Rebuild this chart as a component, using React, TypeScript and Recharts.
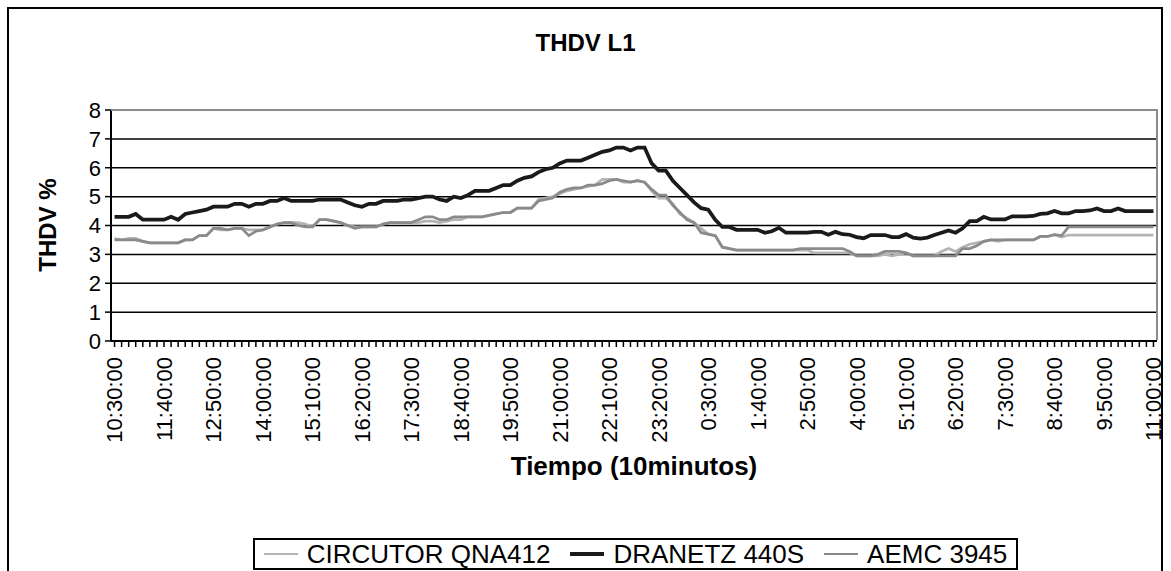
import React from 'react';
import { LineChart, Line, XAxis, YAxis, CartesianGrid } from 'recharts';

// 10-minute samples from 10:30:00 to 11:00:00 next day (148 samples)
const categories: string[] = [];
for (let i = 0; i < 148; i++) {
  const m = (10 * 60 + 30 + i * 10) % 1440;
  categories.push(`${Math.floor(m / 60)}:${String(m % 60).padStart(2, '0')}:00`);
}

const tickLabels = [
  '10:30:00', '11:40:00', '12:50:00', '14:00:00', '15:10:00', '16:20:00', '17:30:00', '18:40:00',
  '19:50:00', '21:00:00', '22:10:00', '23:20:00', '0:30:00', '1:40:00', '2:50:00', '4:00:00',
  '5:10:00', '6:20:00', '7:30:00', '8:40:00', '9:50:00', '11:00:00',
];

const yTicks = [0, 1, 2, 3, 4, 5, 6, 7, 8];

const circutor = [
  3.55, 3.5, 3.55, 3.55, 3.45, 3.4, 3.4, 3.4, 3.4, 3.4,
  3.5, 3.5, 3.65, 3.65, 3.9, 3.85, 3.85, 3.9, 3.9, 3.85,
  3.85, 3.85, 3.95, 4.05, 4.1, 4.1, 4.1, 4.05, 3.95, 4.2,
  4.2, 4.15, 4.1, 4.0, 3.95, 3.95, 3.95, 3.95, 4.05, 4.1,
  4.1, 4.1, 4.1, 4.1, 4.15, 4.15, 4.1, 4.15, 4.2, 4.2,
  4.3, 4.3, 4.3, 4.35, 4.4, 4.45, 4.45, 4.6, 4.6, 4.6,
  4.9, 4.95, 5.0, 5.1, 5.2, 5.25, 5.3, 5.35, 5.4, 5.6,
  5.6, 5.6, 5.5, 5.5, 5.55, 5.5, 5.2, 4.95, 4.95, 4.75,
  4.4, 4.25, 4.1, 3.9, 3.7, 3.65, 3.25, 3.2, 3.15, 3.15,
  3.15, 3.15, 3.15, 3.15, 3.15, 3.15, 3.15, 3.15, 3.15, 3.05,
  3.05, 3.05, 3.05, 3.05, 3.05, 2.95, 2.95, 2.95, 2.95, 3.0,
  2.95, 3.0, 3.05, 2.95, 2.95, 2.95, 2.95, 3.1, 3.2, 3.1,
  3.25, 3.35, 3.4, 3.45, 3.5, 3.45, 3.5, 3.5, 3.5, 3.5,
  3.5, 3.62, 3.62, 3.68, 3.6, 3.67, 3.67, 3.67, 3.67, 3.67,
  3.67, 3.67, 3.67, 3.67, 3.67, 3.67, 3.67, 3.67,
];

const dranetz = [
  4.3, 4.3, 4.3, 4.4, 4.2, 4.2, 4.2, 4.2, 4.3, 4.2,
  4.4, 4.45, 4.5, 4.55, 4.65, 4.65, 4.65, 4.75, 4.75, 4.65,
  4.75, 4.75, 4.85, 4.85, 4.95, 4.85, 4.85, 4.85, 4.85, 4.9,
  4.9, 4.9, 4.9, 4.8, 4.7, 4.65, 4.75, 4.75, 4.85, 4.85,
  4.85, 4.9, 4.9, 4.95, 5.0, 5.0, 4.9, 4.85, 5.0, 4.95,
  5.05, 5.2, 5.2, 5.2, 5.3, 5.4, 5.4, 5.55, 5.65, 5.7,
  5.85, 5.95, 6.0, 6.15, 6.25, 6.25, 6.25, 6.35, 6.45, 6.55,
  6.6, 6.7, 6.7, 6.6, 6.7, 6.7, 6.15, 5.9, 5.9, 5.55,
  5.3, 5.05, 4.8, 4.6, 4.55, 4.2, 3.95, 3.95, 3.85, 3.85,
  3.85, 3.85, 3.75, 3.8, 3.92, 3.75, 3.75, 3.75, 3.75, 3.78,
  3.78, 3.68, 3.78, 3.7, 3.68, 3.6, 3.56, 3.67, 3.67, 3.67,
  3.6, 3.6, 3.7, 3.58, 3.55, 3.58, 3.67, 3.75, 3.83, 3.75,
  3.9, 4.15, 4.15, 4.3, 4.21, 4.21, 4.21, 4.32, 4.32, 4.32,
  4.33, 4.4, 4.42, 4.5, 4.42, 4.42, 4.5, 4.5, 4.52, 4.59,
  4.5, 4.5, 4.59, 4.5, 4.5, 4.5, 4.5, 4.5,
];

const aemc = [
  3.5, 3.5, 3.5, 3.5, 3.45, 3.4, 3.4, 3.4, 3.4, 3.4,
  3.5, 3.5, 3.65, 3.65, 3.9, 3.9, 3.85, 3.9, 3.9, 3.65,
  3.8, 3.85, 3.95, 4.05, 4.1, 4.1, 4.0, 3.95, 3.95, 4.2,
  4.2, 4.15, 4.1, 4.0, 3.9, 3.95, 3.95, 3.95, 4.05, 4.1,
  4.1, 4.1, 4.1, 4.2, 4.3, 4.3, 4.2, 4.2, 4.3, 4.3,
  4.3, 4.3, 4.3, 4.35, 4.4, 4.45, 4.45, 4.6, 4.6, 4.6,
  4.85, 4.9, 4.95, 5.15, 5.25, 5.3, 5.3, 5.4, 5.4, 5.45,
  5.55, 5.6, 5.55, 5.5, 5.55, 5.5, 5.25, 5.05, 5.05, 4.7,
  4.45, 4.2, 4.1, 3.75, 3.7, 3.65, 3.25, 3.2, 3.15, 3.15,
  3.15, 3.15, 3.15, 3.15, 3.15, 3.15, 3.15, 3.2, 3.2, 3.2,
  3.2, 3.2, 3.2, 3.2, 3.1, 2.95, 2.95, 2.95, 3.0, 3.1,
  3.1, 3.1, 3.05, 2.95, 2.95, 2.95, 2.95, 2.95, 2.95, 2.95,
  3.2, 3.2, 3.3, 3.45, 3.5, 3.5, 3.5, 3.5, 3.5, 3.5,
  3.5, 3.62, 3.62, 3.68, 3.65, 3.95, 3.95, 3.95, 3.95, 3.95,
  3.95, 3.95, 3.95, 3.95, 3.95, 3.95, 3.95, 3.95,
];

const seriesNames = ['CIRCUTOR QNA412', 'DRANETZ 440S', 'AEMC 3945'];
const seriesColors = ['#b4b4b4', '#1a1a1a', '#8a8a8a'];
const seriesWidths = [2.75, 3.75, 2.75];

const data = categories.map((t, i) => ({
  t,
  circutor: circutor[i],
  dranetz: dranetz[i],
  aemc: aemc[i],
}));
const seriesKeys = ['circutor', 'dranetz', 'aemc'];

const FONT = '"Liberation Sans", Arial, sans-serif';

const XTick = (props: any) => {
  const { x, y, index } = props;
  if (index % 7 !== 0) return <g />;
  const label = tickLabels[index / 7];
  return (
    <text
      x={x}
      y={y}
      transform={`rotate(-90, ${x}, ${y})`}
      textAnchor="end"
      dy="0.36em"
      fontSize={22}
      fontFamily={FONT}
      fill="#000"
    >
      {label}
    </text>
  );
};

const PLOT_LEFT = 111;
const PLOT_RIGHT = 1157;
const PLOT_TOP = 110;
const PLOT_BOTTOM = 341;
const W = 1171;
const H = 571;
const pad = (PLOT_RIGHT - PLOT_LEFT) / 148 / 2;

export default function App() {
  return (
    <div style={{ position: 'absolute', left: 0, top: 0, width: W, height: H, background: '#fff', fontFamily: FONT, overflow: 'hidden' }}>
      <div
        style={{
          position: 'absolute', left: 7, top: 7, width: 1156, height: 570,
          borderLeft: '2px solid #000', borderTop: '2px solid #000', borderRight: '2px solid #000',
          boxSizing: 'border-box',
        }}
      />
      <div style={{ position: 'absolute', left: 0, width: W, top: 29, textAlign: 'center', fontWeight: 'bold', fontSize: 24 }}>
        THDV L1
      </div>
      <div
        style={{
          position: 'absolute', left: 48, top: 225, transform: 'translate(-50%, -50%) rotate(-90deg)',
          fontWeight: 'bold', fontSize: 24, whiteSpace: 'nowrap',
        }}
      >
        THDV %
      </div>
      <div
        style={{
          position: 'absolute', left: (PLOT_LEFT + PLOT_RIGHT) / 2, top: 466, transform: 'translate(-50%, -50%)',
          fontWeight: 'bold', fontSize: 26, whiteSpace: 'nowrap',
        }}
      >
        Tiempo (10minutos)
      </div>
      <div style={{ position: 'absolute', left: 0, top: 0 }}>
        <LineChart
          width={W}
          height={H}
          data={data}
          margin={{ top: PLOT_TOP, right: W - PLOT_RIGHT, left: PLOT_LEFT - 60, bottom: H - PLOT_BOTTOM - 100 }}
        >
          <CartesianGrid horizontal vertical={false} stroke="#000" strokeWidth={1.5} horizontalValues={[1, 2, 3, 4, 5, 6, 7]} />
          <XAxis
            dataKey="t"
            interval={0}
            height={100}
            padding={{ left: pad, right: pad }}
            tick={<XTick />}
            tickLine={{ stroke: '#000', strokeWidth: 1.5 }}
            tickSize={6}
            tickMargin={10}
            axisLine={{ stroke: '#000', strokeWidth: 2 }}
          />
          <YAxis
            width={60}
            domain={[0, 8]}
            ticks={yTicks}
            interval={0}
            tick={{ fontSize: 22, fill: '#000', fontFamily: FONT }}
            tickLine={{ stroke: '#000', strokeWidth: 1.5 }}
            tickSize={6}
            tickMargin={4}
            axisLine={{ stroke: '#000', strokeWidth: 2 }}
          />
          {seriesKeys.map((k, i) => (
            <Line
              key={k}
              dataKey={k}
              name={seriesNames[i]}
              stroke={seriesColors[i]}
              strokeWidth={seriesWidths[i]}
              dot={false}
              type="linear"
              isAnimationActive={false}
            />
          ))}
        </LineChart>
      </div>
      <div
        style={{
          position: 'absolute', left: PLOT_LEFT, top: PLOT_TOP - 1, width: PLOT_RIGHT - PLOT_LEFT + 1,
          height: PLOT_BOTTOM - PLOT_TOP, borderTop: '2px solid #8c8c8c', borderRight: '2px solid #8c8c8c',
          boxSizing: 'border-box', pointerEvents: 'none',
        }}
      />
      <div
        style={{
          position: 'absolute', left: 253, width: 765, top: 538,
          border: '2px solid #000', height: 32, boxSizing: 'border-box', display: 'flex', alignItems: 'center',
          justifyContent: 'center', whiteSpace: 'nowrap', fontSize: 26, background: '#fff',
        }}
      >
        {seriesNames.map((n, i) => (
          <div key={n} style={{ display: 'flex', alignItems: 'center', marginRight: i < 2 ? 20 : 0 }}>
            <div style={{ width: 34, height: seriesWidths[i], background: seriesColors[i], marginRight: 9 }} />
            <span>{n}</span>
          </div>
        ))}
      </div>
    </div>
  );
}
